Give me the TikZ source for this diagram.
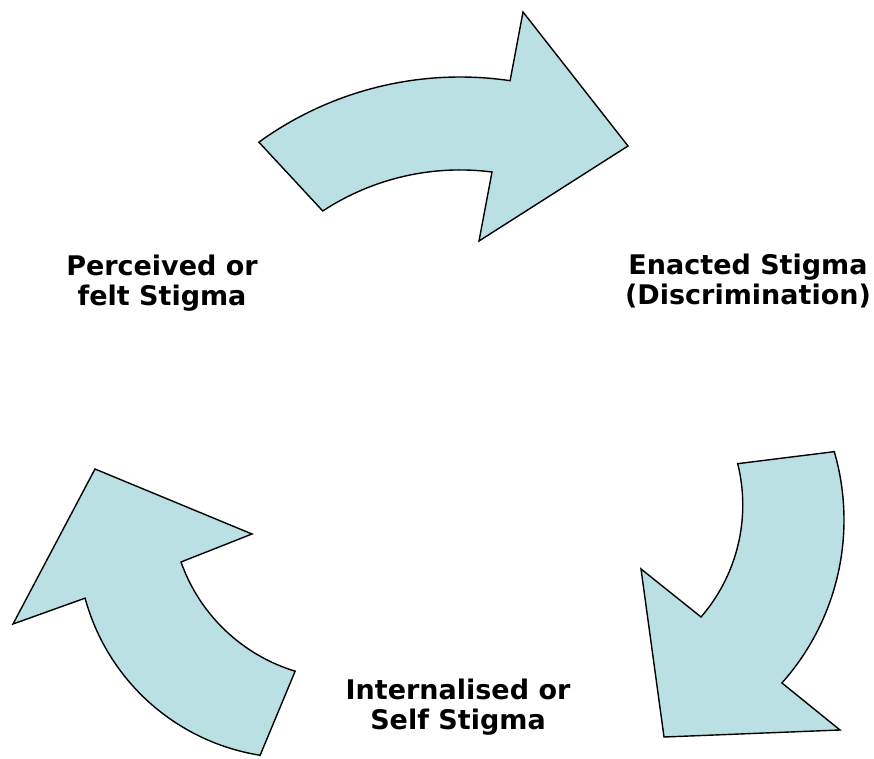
\documentclass[tikz,border=0pt]{standalone}
\usepackage{fontspec}
\setmainfont{DejaVu Sans}
\usetikzlibrary{calc}
\definecolor{arrowfill}{RGB}{187,224,227}
\begin{document}
\begin{tikzpicture}[x=1pt,y=1pt,
  arrowshape/.style={fill=arrowfill, draw=black, line width=1.4pt, line join=miter},
  stigmatext/.style={font=\bfseries\fontsize{27}{30}\selectfont, align=center, inner sep=0pt}]
\useasboundingbox (0,0) rectangle (874,758);

% top arrow: perceived -> enacted
\filldraw[arrowshape] ($(460,338)+(125.9:343)$)
  arc[start angle=125.9, end angle=81.6, radius=343]
  -- (523,746) -- (628,612) -- (479,517) -- (492,586)
  arc[start angle=82.65, end angle=123.3, radius=250] -- cycle;

% right arrow: enacted -> internalised
\filldraw[arrowshape] ($(599,238)+(16.2:245)$)
  arc[start angle=16.2, end angle=-41.7, radius=245]
  -- (840,28) -- (664,21) -- (641,189) -- (701,141)
  arc[start angle=-40.9, end angle=14.0, radius=171] -- cycle;

% left arrow: internalised -> perceived
\filldraw[arrowshape] ($(294,216.6)+(261:216.5)$)
  arc[start angle=261, end angle=195.2, radius=216.5]
  -- (13,134) -- (95,289) -- (252,224) -- (181,196)
  arc[start angle=199.45, end angle=253.1, radius=175] -- cycle;

\node[stigmatext] (perceived) at (162,474.4) {Perceived or\\felt Stigma};
\node[stigmatext] (enacted) at (748,476.6) {Enacted Stigma\\(Discrimination)};
\node[stigmatext] (internalised) at (458,50.6) {Internalised or\\Self Stigma};
\end{tikzpicture}
\end{document}
